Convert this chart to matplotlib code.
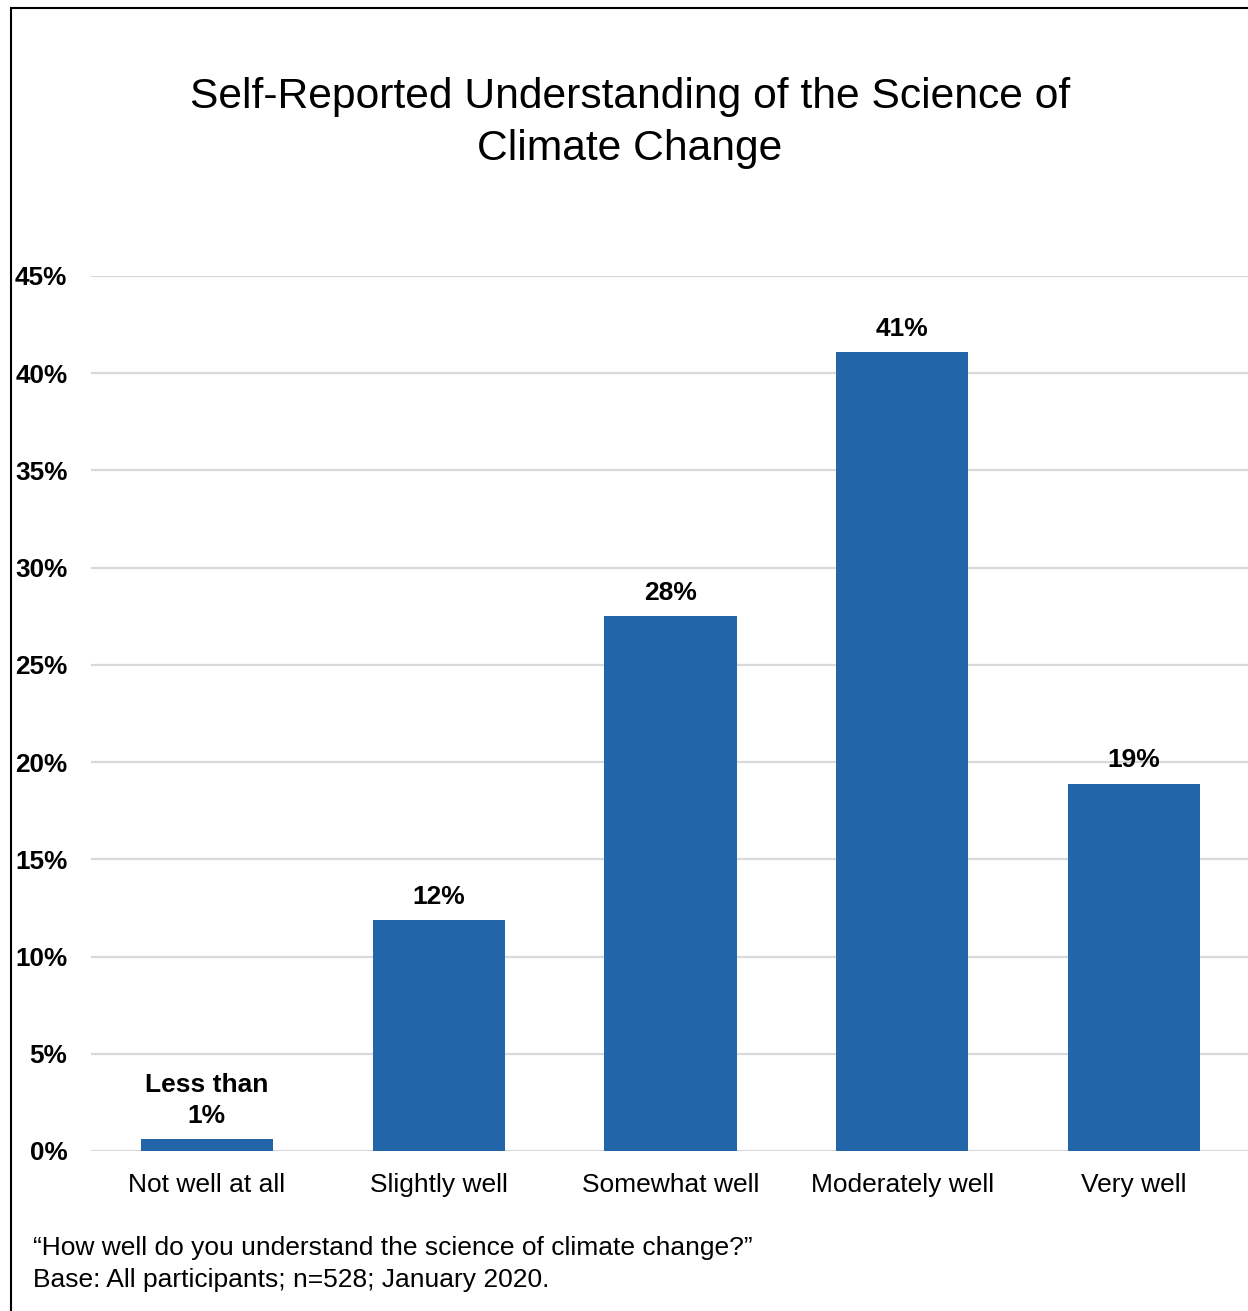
import matplotlib
matplotlib.use('Agg')
import matplotlib.pyplot as plt
from matplotlib.patches import Rectangle

categories = ['Not well at all', 'Slightly well', 'Somewhat well', 'Moderately well', 'Very well']
values = [0.6, 11.9, 27.5, 41.1, 18.9]
value_labels = ['Less than\n1%', '12%', '28%', '41%', '19%']
yticks = [0, 5, 10, 15, 20, 25, 30, 35, 40, 45]
ytick_labels = ['%d%%' % t for t in yticks]

title = 'Self-Reported Understanding of the Science of\nClimate Change'
note = '\u201cHow well do you understand the science of climate change?\u201d\nBase: All participants; n=528; January 2020.'

plt.rcParams['font.family'] = ['Liberation Sans', 'DejaVu Sans']

W, H = 1248, 1311
fig = plt.figure(figsize=(W / 100, H / 100), dpi=100)

# axes placed in pixel terms: x 91..1250, y 276(45%)..1151(0%)
ax = fig.add_axes([91 / W, 1 - 1151 / H, (1250 - 91) / W, (1151 - 276) / H])

x = range(len(categories))
ax.bar(x, values, width=0.57, color='#2265A9', zorder=3)
ax.set_xlim(-0.5, 4.5)
ax.set_ylim(0, 45)
ax.set_yticks(yticks)
ax.set_yticklabels(ytick_labels, fontsize=18.8, fontweight='bold')
ax.set_xticks(list(x))
ax.set_xticklabels(categories, fontsize=19)
ax.tick_params(axis='y', length=0, pad=17)
ax.tick_params(axis='x', length=0, pad=16)
ax.grid(axis='y', color='#d9d9d9', linewidth=1.6, zorder=0)
for s in ax.spines.values():
    s.set_visible(False)

for i, (v, lab) in enumerate(zip(values, value_labels)):
    ax.annotate(lab, (i, v), xytext=(0, 8), textcoords='offset points',
                ha='center', va='bottom', fontsize=19, fontweight='bold',
                linespacing=1.4)

fig.text(630 / W, 1 - 123 / H, title, ha='center', va='center', fontsize=30.7,
         linespacing=1.36)
fig.text(33 / W, 1 - 1264 / H, note, ha='left', va='center', fontsize=19,
         linespacing=1.37)

# outer frame (only left and top visible in the crop)
fig.patches.append(Rectangle((11 / W, -0.1), 2, 1 - 8 / H + 0.1, transform=fig.transFigure,
                             fill=False, edgecolor='black', linewidth=1.5))

fig.savefig('out.png', dpi=100, facecolor='white')
